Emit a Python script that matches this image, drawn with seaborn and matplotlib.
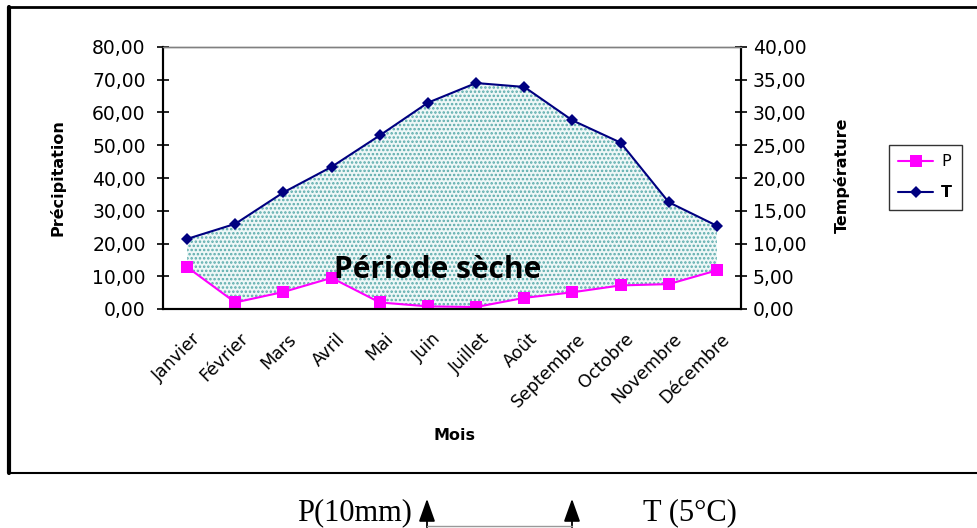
import numpy as np
import matplotlib
matplotlib.use("Agg")
import matplotlib.pyplot as plt
import seaborn as sns
from matplotlib.lines import Line2D
import matplotlib.transforms as mtransforms

months = ["Janvier", "Février", "Mars", "Avril", "Mai", "Juin", "Juillet",
          "Août", "Septembre", "Octobre", "Novembre", "Décembre"]
precip = [12.8, 2.0, 5.2, 9.5, 2.0, 0.8, 0.6, 3.4, 5.1, 7.2, 7.6, 11.8]
temp = [10.7, 13.0, 17.8, 21.7, 26.5, 31.5, 34.5, 33.9, 28.8, 25.4, 16.3, 12.7]
left_ticks = [0, 10, 20, 30, 40, 50, 60, 70, 80]
right_ticks = [0, 5, 10, 15, 20, 25, 30, 35, 40]

sns.set_theme(style="white")
plt.rcParams["font.family"] = ["DejaVu Sans"]
plt.rcParams["hatch.linewidth"] = 1.2
for k in ("text.color", "axes.labelcolor", "xtick.color", "ytick.color"):
    plt.rcParams[k] = "black"

fig = plt.figure(figsize=(9.78, 5.28), dpi=100)
ax = fig.add_axes([163 / 978, 219 / 528, 578 / 978, 262 / 528])
ax2 = ax.twinx()

xpos = np.arange(len(months))
temp_left = [2 * t for t in temp]

ax.fill_between(xpos, precip, temp_left, facecolor="#eef7f7", edgecolor="#5aabab",
                hatch="....", linewidth=0, zorder=1)

sns.lineplot(x=xpos, y=precip, ax=ax, color="#ff00ff", marker="s", markersize=9,
             markeredgewidth=0, linewidth=1.5, zorder=3)
sns.lineplot(x=xpos, y=temp, ax=ax2, color="#000080", marker="D", markersize=6,
             markeredgewidth=0, linewidth=1.5, zorder=3)

ax.set_xlim(-0.5, len(months) - 0.5)
ax.set_ylim(0, 80)
ax2.set_ylim(0, 40)
ax.set_yticks(left_ticks)
ax.set_yticklabels([f"{v:.2f}".replace(".", ",") for v in left_ticks], fontsize=13.5)
ax2.set_yticks(right_ticks)
ax2.set_yticklabels([f"{v:.2f}".replace(".", ",") for v in right_ticks], fontsize=13.5)

ax.set_xticks(xpos)
ax.set_xticklabels(months, rotation=45, ha="right", va="top", rotation_mode="anchor",
                   fontsize=12.5)
ax.set_xticks(np.arange(-0.5, len(months)), minor=True)
ax.tick_params(axis="x", which="major", length=0, pad=15)
ax.tick_params(axis="x", which="minor", direction="inout", length=9, width=1.2, color="black")
ax.tick_params(axis="y", direction="inout", length=9, width=1.2, color="black", pad=8,
               left=True)
ax2.tick_params(axis="y", direction="inout", length=9, width=1.2, color="black", pad=4,
                right=True)
offset = mtransforms.ScaledTranslation(0.04, 0, fig.dpi_scale_trans)
for lbl in ax.get_xticklabels():
    lbl.set_transform(lbl.get_transform() + offset)

for a in (ax, ax2):
    a.grid(False)
    for side in ("left", "right", "bottom"):
        a.spines[side].set_color("black")
        a.spines[side].set_linewidth(1.5)
    a.spines["top"].set_color("#808080")
    a.spines["top"].set_linewidth(1.0)
ax.patch.set_alpha(0)

ax.set_xlabel("Mois", fontweight="bold", fontsize=11.5)
ax.xaxis.set_label_coords(0.505, -0.455)
ax.set_ylabel("Précipitation", fontweight="bold", fontsize=11.5)
ax.yaxis.set_label_coords(-0.168, 0.5)
ax2.set_ylabel("Température", fontweight="bold", fontsize=11.5)
ax2.yaxis.set_label_coords(1.16, 0.51)

ax.text(5.2, 12.0, "Période sèche", fontsize=21.5, fontfamily="Open Sans",
        fontweight="bold", ha="center", va="center", zorder=5)

handles = [Line2D([], [], color="#ff00ff", marker="s", markersize=9, markeredgewidth=0, lw=1.5),
           Line2D([], [], color="#000080", marker="D", markersize=6, markeredgewidth=0, lw=1.5)]
leg = fig.legend(handles, ["P", "T"], loc="center", bbox_to_anchor=(0.946, 0.664),
                 frameon=True, fancybox=False, edgecolor="black", fontsize=11.5,
                 handlelength=2.2, borderpad=0.6, labelspacing=1.0, handletextpad=0.5)
leg.get_frame().set_linewidth(1.0)
leg.get_texts()[1].set_fontweight("bold")

# outer frame
def fx(px):
    return px / 978
def fy(py):
    return 1 - py / 528
fig.add_artist(Line2D([fx(9), fx(9)], [fy(7), fy(473)], color="black", lw=3))
fig.add_artist(Line2D([fx(9), fx(978)], [fy(7), fy(7)], color="black", lw=2))
fig.add_artist(Line2D([fx(9), fx(978)], [fy(473), fy(473)], color="black", lw=1.5))

fig.text(fx(297), fy(513), "P(10mm)", fontfamily="Liberation Serif", fontsize=22,
         ha="left", va="center")
fig.text(fx(643), fy(513), "T (5°C)", fontfamily="Liberation Serif", fontsize=22,
         ha="left", va="center")
for xa in (427, 572):
    fig.add_artist(matplotlib.patches.FancyArrowPatch((fx(xa), fy(530)), (fx(xa), fy(496)),
                   transform=fig.transFigure, arrowstyle="-|>,head_length=7,head_width=2.5",
                   color="black", lw=1.3, mutation_scale=2))
fig.add_artist(Line2D([fx(427), fx(572)], [fy(526), fy(526)], color="#999999", lw=1))

fig.savefig("out.png", dpi=100)
